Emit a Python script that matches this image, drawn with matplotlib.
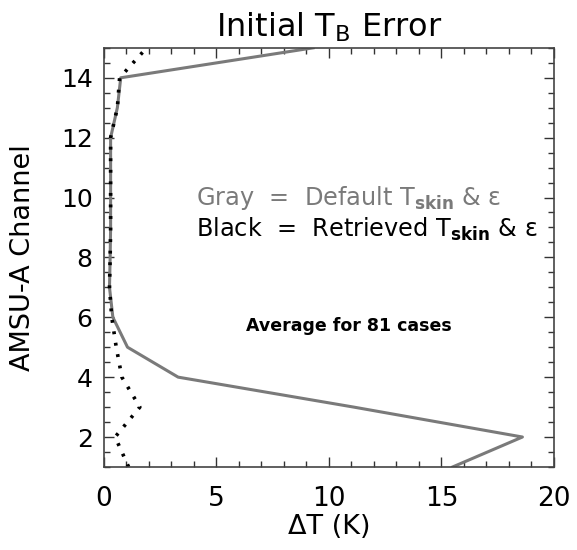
import matplotlib
matplotlib.use("Agg")
import matplotlib.pyplot as plt
from matplotlib.ticker import MultipleLocator

channels = [1, 2, 3, 4, 5, 6, 7, 8, 9, 10, 11, 12, 13, 14, 15]
default_err = [15.5, 18.6, 11.1, 3.3, 1.05, 0.4, 0.25, 0.28, 0.3, 0.3, 0.3, 0.3, 0.6, 0.75, 9.3]
retrieved_err = [1.1, 0.5, 1.6, 0.8, 0.55, 0.35, 0.25, 0.28, 0.3, 0.3, 0.3, 0.3, 0.6, 0.7, 1.9]

plt.rcParams['font.family'] = ['DejaVu Sans']
plt.rcParams['mathtext.default'] = 'regular'

fig = plt.figure(figsize=(5.77, 5.5), dpi=100)
ax = fig.add_axes([0.180, 0.151, 0.780, 0.762])

ax.plot(default_err, channels, color='#7a7a7a', lw=2.2)
ax.plot(retrieved_err, channels, color='black', lw=2.6, linestyle=(0, (0.8, 2.4)))

ax.set_xlim(0, 20)
ax.set_ylim(1, 15)
ax.xaxis.set_major_locator(MultipleLocator(5))
ax.xaxis.set_minor_locator(MultipleLocator(1))
ax.yaxis.set_major_locator(MultipleLocator(2))
ax.yaxis.set_minor_locator(MultipleLocator(0.5))
ax.tick_params(which='both', direction='in', top=True, right=True, width=1, color='#333333')
ax.tick_params(axis='x', labelsize=19)
ax.tick_params(axis='y', labelsize=18)
ax.tick_params(which='major', length=7)
ax.tick_params(axis='x', which='major', pad=14)
ax.tick_params(axis='y', which='major', pad=8)
ax.tick_params(which='minor', length=4)
for s in ax.spines.values():
    s.set_color('#444444')
    s.set_linewidth(1.2)

ax.set_title('Initial T$_B$ Error', fontsize=23, pad=8)
ax.set_xlabel('ΔT (K)', fontsize=19.5, labelpad=1)
ax.set_ylabel('AMSU-A Channel', fontsize=19.5, labelpad=18)

ax.text(4.1, 10.0, 'Gray  =  Default T$_{\\mathbf{skin}}$ & $\\epsilon$', color='#7a7a7a', fontsize=17.3, va='center')
ax.text(4.1, 8.93, 'Black  =  Retrieved T$_{\\mathbf{skin}}$ & $\\epsilon$', color='black', fontsize=17.3, va='center')
ax.text(10.9, 5.72, 'Average for 81 cases', color='black', fontsize=12.5, ha='center', va='center', fontweight='bold')

fig.savefig('out.png', dpi=100)
